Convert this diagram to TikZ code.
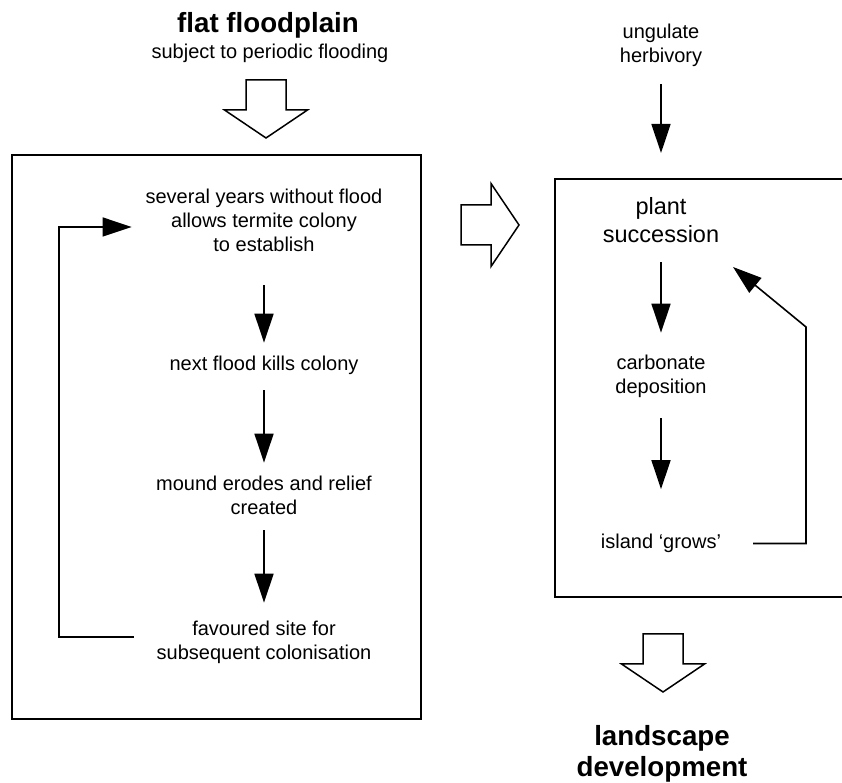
\documentclass[tikz,border=0pt]{standalone}
\usepackage{fontspec}
\setmainfont{Liberation Sans}
\usetikzlibrary{arrows.meta}

\begin{document}
\begin{tikzpicture}[x=1pt,y=1pt,
 txt/.style={font=\fontsize{20}{24}\selectfont,align=center,inner sep=0pt,outer sep=0pt},
 head/.style={txt,font=\bfseries\fontsize{27.7}{31}\selectfont},
 flow/.style={-{Triangle[length=29pt,width=19pt]},line width=1.6pt},
 frame/.style={line width=1.8pt},
 hollowarrow/.pic={\draw[line width=1.5pt,line join=miter] (-20,58) -- (20,58) -- (20,28) -- (41.5,28) -- (0,0) -- (-41.5,28) -- (-20,28) -- cycle;}]
\useasboundingbox (0,0) rectangle (842,783);
% floodplain and termite cycle
\node[head] (flat) at (268,757.5) {flat floodplain};
\node[txt] (sub) at (270,730) {subject to periodic flooding};
\pic at (266,645) {hollowarrow};
\draw[frame] (12,64) rectangle (421,628);
\node[txt] (est) at (264,563) {several years without flood\\allows termite colony\\to establish};
\node[txt] (kill) at (264,418) {next flood kills colony};
\node[txt] (erode) at (264,288) {mound erodes and relief\\created};
\node[txt] (site) at (264,141) {favoured site for\\subsequent colonisation};
\draw[flow] ([yshift=-34pt]est.south) -- ([yshift=13pt]kill.north);
\draw[flow] ([yshift=-16pt]kill.south) -- ([yshift=13pt]erode.north);
\draw[flow] ([yshift=-16pt]erode.south) -- ([yshift=18pt]site.north);
\coordinate (ltop) at (59,556);
\draw[flow] ([shift={(-23,5)}]site.west) -| (ltop) -- ([shift={(-14,-7)}]est.west);
% island growth
\pic[rotate=90] at (519,558) {hollowarrow};
\draw[frame] (842,604) -| (555,186) -- (842,186);
\node[txt] (herb) at (661,738) {ungulate\\herbivory};
\coordinate (herbend) at (661,630);
\draw[flow] ([yshift=-18pt]herb.south) -- (herbend);
\node[txt,font=\fontsize{23.5}{28}\selectfont] (plant) at (661,562.5) {plant\\succession};
\node[txt] (carb) at (661,407) {carbonate\\deposition};
\node[txt] (isl) at (661,239.5) {island ‘grows’};
\draw[flow] ([yshift=-19pt]plant.south) -- ([yshift=22pt]carb.north);
\draw[flow] ([yshift=-21pt]carb.south) -- ([yshift=45pt]isl.north);
\coordinate (rturn) at (806,456);
\coordinate (regrow) at (733,516);
\draw[flow] ([xshift=32pt]isl.east) -| (rturn) -- (regrow);
\pic at (663,91) {hollowarrow};
\node[head] (land) at (662,29.5) {landscape\\development};
\end{tikzpicture}
\end{document}
